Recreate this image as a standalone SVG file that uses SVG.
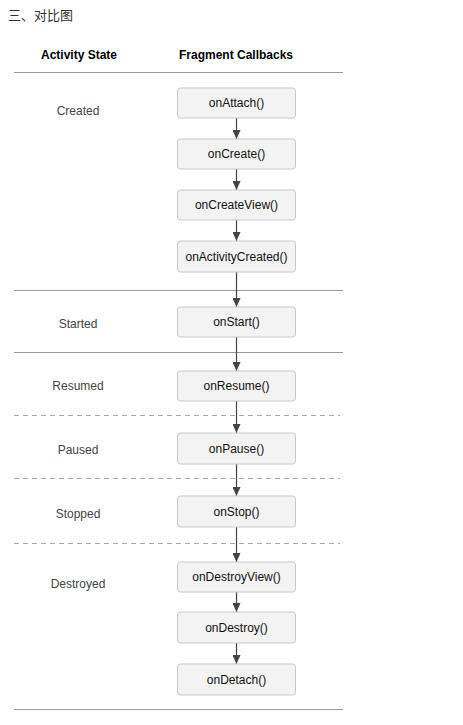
<svg xmlns="http://www.w3.org/2000/svg" width="463" height="725" viewBox="0 0 463 725">
<style>
.t{font-family:"Liberation Sans",Arial,sans-serif;font-size:12px;fill:#111;text-anchor:middle}
.h{font-family:"Liberation Sans",Arial,sans-serif;font-size:12px;font-weight:bold;fill:#000;text-anchor:middle}
.s{font-family:"Liberation Sans",Arial,sans-serif;font-size:12px;fill:#444;text-anchor:middle}
.b{fill:#f3f3f3;stroke:#c8c8c8;stroke-width:1}
.sl{stroke:#999;stroke-width:1}
.dl{stroke:#aaa;stroke-width:1;stroke-dasharray:5,4}
.c{stroke:#444;stroke-width:1.2;fill:none;marker-end:url(#ah)}
</style>
<defs>
<marker id="ah" viewBox="0 0 9 8" refX="9" refY="4" markerWidth="9" markerHeight="8" markerUnits="userSpaceOnUse" orient="auto">
<path d="M0,0 L9,4 L0,8 Z" fill="#444"/>
</marker>
</defs>
<rect width="463" height="725" fill="#fff"/>
<text x="8" y="20" style="font-family:'Liberation Sans','Noto Sans CJK SC',sans-serif;font-size:13px;fill:#333">三、对比图</text>
<text class="h" x="79" y="59">Activity State</text>
<text class="h" x="236" y="59">Fragment Callbacks</text>
<g id="separators">
<line class="sl" x1="14" y1="72.5" x2="343" y2="72.5"/>
<line class="sl" x1="14" y1="290.5" x2="343" y2="290.5"/>
<line class="sl" x1="14" y1="352.5" x2="343" y2="352.5"/>
<line class="dl" x1="14" y1="415.5" x2="340" y2="415.5"/>
<line class="dl" x1="14" y1="478.5" x2="340" y2="478.5"/>
<line class="dl" x1="14" y1="543.5" x2="340" y2="543.5"/>
<line class="sl" x1="14" y1="709.5" x2="343" y2="709.5"/>
</g>
<g id="states">
<text class="s" x="78" y="115">Created</text>
<text class="s" x="78" y="328">Started</text>
<text class="s" x="78" y="390">Resumed</text>
<text class="s" x="78" y="454">Paused</text>
<text class="s" x="78" y="518">Stopped</text>
<text class="s" x="78" y="588">Destroyed</text>
</g>
<g id="connectors">
<line class="c" x1="236.5" y1="118" x2="236.5" y2="139"/>
<line class="c" x1="236.5" y1="169" x2="236.5" y2="190"/>
<line class="c" x1="236.5" y1="220" x2="236.5" y2="241"/>
<line class="c" x1="236.5" y1="272" x2="236.5" y2="307"/>
<line class="c" x1="236.5" y1="337" x2="236.5" y2="371"/>
<line class="c" x1="236.5" y1="401" x2="236.5" y2="433"/>
<line class="c" x1="236.5" y1="464" x2="236.5" y2="496"/>
<line class="c" x1="236.5" y1="527" x2="236.5" y2="562"/>
<line class="c" x1="236.5" y1="592" x2="236.5" y2="612"/>
<line class="c" x1="236.5" y1="643" x2="236.5" y2="664"/>
</g>
<g id="onAttach"><rect class="b" x="177.5" y="88" width="118" height="30" rx="3"/><text class="t" x="236.5" y="107">onAttach()</text></g>
<g id="onCreate"><rect class="b" x="177.5" y="139" width="118" height="30" rx="3"/><text class="t" x="236.5" y="158">onCreate()</text></g>
<g id="onCreateView"><rect class="b" x="177.5" y="190" width="118" height="30" rx="3"/><text class="t" x="236.5" y="209">onCreateView()</text></g>
<g id="onActivityCreated"><rect class="b" x="177.5" y="241" width="118" height="31" rx="3"/><text class="t" x="236.5" y="261">onActivityCreated()</text></g>
<g id="onStart"><rect class="b" x="177.5" y="307" width="118" height="30" rx="3"/><text class="t" x="236.5" y="326">onStart()</text></g>
<g id="onResume"><rect class="b" x="177.5" y="371" width="118" height="30" rx="3"/><text class="t" x="236.5" y="390">onResume()</text></g>
<g id="onPause"><rect class="b" x="177.5" y="433" width="118" height="31" rx="3"/><text class="t" x="236.5" y="453">onPause()</text></g>
<g id="onStop"><rect class="b" x="177.5" y="496" width="118" height="31" rx="3"/><text class="t" x="236.5" y="516">onStop()</text></g>
<g id="onDestroyView"><rect class="b" x="177.5" y="562" width="118" height="30" rx="3"/><text class="t" x="236.5" y="581">onDestroyView()</text></g>
<g id="onDestroy"><rect class="b" x="177.5" y="612" width="118" height="31" rx="3"/><text class="t" x="236.5" y="632">onDestroy()</text></g>
<g id="onDetach"><rect class="b" x="177.5" y="664" width="118" height="31" rx="3"/><text class="t" x="236.5" y="684">onDetach()</text></g>
</svg>
